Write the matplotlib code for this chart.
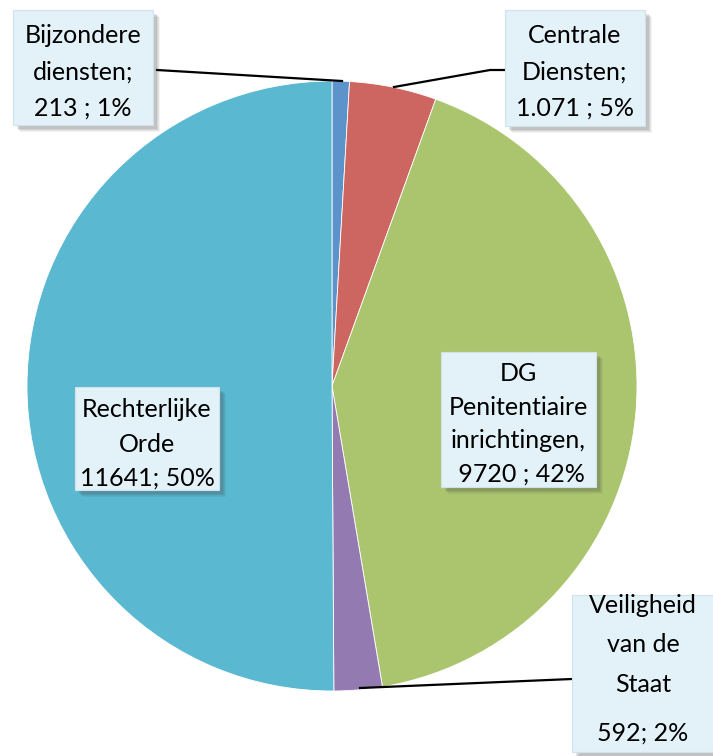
import matplotlib.pyplot as plt
from matplotlib.patches import Rectangle

# data
names = ["Bijzondere diensten", "Centrale Diensten", "DG Penitentiaire inrichtingen",
         "Veiligheid van de Staat", "Rechterlijke Orde"]
values = [213, 1071, 9720, 592, 11641]
colors = ["#5B93CA", "#CD6660", "#ABC56E", "#937BB2", "#5AB8D0"]
labels = ["Bijzondere\ndiensten;\n213 ; 1%",
          "Centrale\nDiensten;\n1.071 ; 5%",
          "DG\nPenitentiaire\ninrichtingen,\n 9720 ; 42%",
          "Veiligheid\nvan de\nStaat",
          "Rechterlijke\nOrde\n11641; 50%"]
extra_label = "592; 2%"

plt.rcParams['font.family'] = ['Lato', 'DejaVu Sans']

W, H = 713, 756
fig = plt.figure(figsize=(W / 100, H / 100), dpi=100)
ax = fig.add_axes([0, 0, 1, 1])

# pixel coords, y inverted -> counterclock in data = clockwise on screen
wedges, _ = ax.pie(values, colors=colors, center=(332, 386), radius=305,
                   startangle=-90, counterclock=True,
                   wedgeprops=dict(edgecolor="white", linewidth=0.6))
ax.set_xlim(0, W)
ax.set_ylim(H, 0)
ax.set_aspect("equal")
ax.axis("off")

# leader lines
ax.plot([157, 342], [70, 81], color="black", lw=1.6, zorder=3)
ax.plot([394, 490, 505], [87, 70, 70], color="black", lw=1.6, zorder=3)
ax.plot([360, 572], [688, 679], color="black", lw=1.6, zorder=3)

# label boxes (x0, y0, x1, y1), text centres, line spacing
boxes = [(13, 10, 153, 125), (505, 10, 645, 126), (441, 352, 596, 487),
         (572, 595, 716, 752), (75, 387, 219, 490)]
centres = [(83, 72), (575, 72), (518, 424), (643, 645), (147, 444)]
spacing = [1.69, 1.69, 1.56, 1.85, 1.58]


def box(x0, y0, x1, y1):
    for k, a in [(7, 0.06), (6, 0.08), (5, 0.10), (4, 0.12)]:
        ax.add_patch(Rectangle((x0 + k, y0 + k), x1 - x0, y1 - y0,
                               facecolor="#404040", edgecolor="none",
                               alpha=a, zorder=4))
    ax.add_patch(Rectangle((x0, y0), x1 - x0, y1 - y0, facecolor="#E3F1F8",
                           edgecolor="#D0E2EC", lw=0.8, zorder=5))


for (x0, y0, x1, y1), (cx, cy), ls, lab in zip(boxes, centres, spacing, labels):
    box(x0, y0, x1, y1)
    ax.text(cx, cy, lab, ha="center", va="center", fontsize=18,
            linespacing=ls, color="black", zorder=6)

ax.text(643, 733, extra_label, ha="center", va="center", fontsize=18,
        color="black", zorder=6)

fig.savefig("out.png", dpi=100)
